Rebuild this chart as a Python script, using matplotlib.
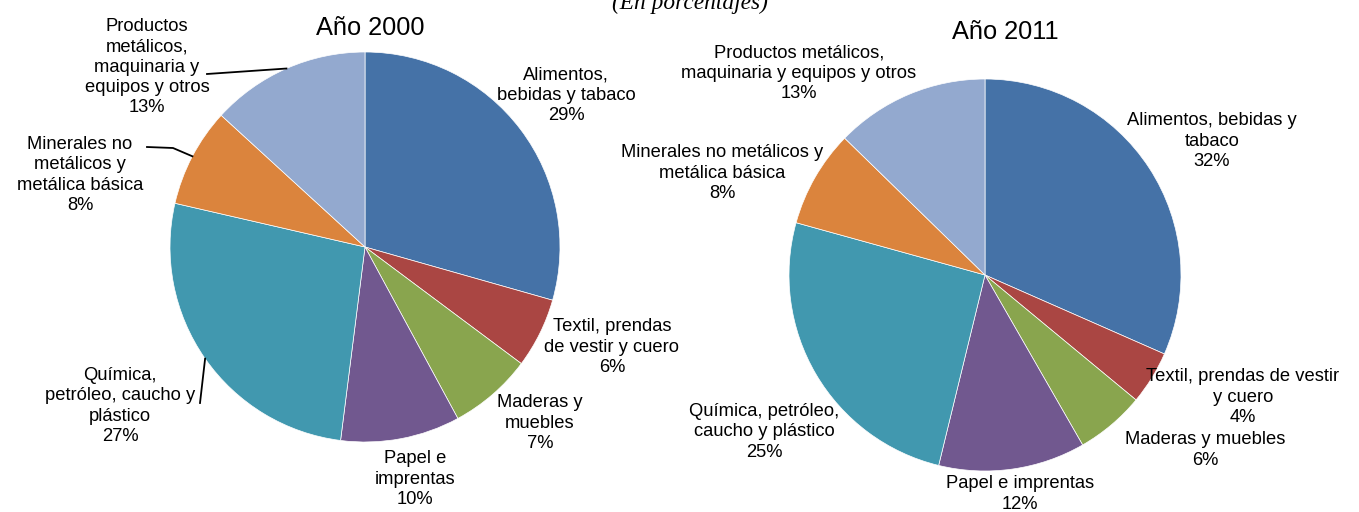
import numpy as np
import matplotlib
matplotlib.use("Agg")
import matplotlib.pyplot as plt

plt.rcParams['font.family'] = ['Liberation Sans', 'DejaVu Sans']

# datos (porcentajes)
sectores_2000 = ["Alimentos,\nbebidas y tabaco", "Textil, prendas\nde vestir y cuero",
                 "Maderas y\nmuebles", "Papel e\nimprentas",
                 "Química,\npetróleo, caucho y\nplástico",
                 "Minerales no\nmetálicos y\nmetálica básica",
                 "Productos\nmetálicos,\nmaquinaria y\nequipos y otros"]
valores_2000 = [29.4, 5.8, 6.9, 9.9, 26.6, 8.2, 13.2]
etiq_2000 = ["29%", "6%", "7%", "10%", "27%", "8%", "13%"]

sectores_2011 = ["Alimentos, bebidas y\ntabaco", "Textil, prendas de vestir\ny cuero",
                 "Maderas y muebles", "Papel e imprentas",
                 "Química, petróleo,\ncaucho y plástico",
                 "Minerales no metálicos y\nmetálica básica",
                 "Productos metálicos,\nmaquinaria y equipos y otros"]
valores_2011 = [31.6, 4.4, 5.7, 12.1, 25.5, 8.0, 12.7]
etiq_2011 = ["32%", "4%", "6%", "12%", "25%", "8%", "13%"]

colores = ["#4572A7", "#AA4643", "#89A54E", "#71588F", "#4198AF", "#DB843D", "#93A9CF"]

W, H = 1359, 512
fig = plt.figure(figsize=(W / 100, H / 100), dpi=100)
ax = fig.add_axes([0, 0, 1, 1])


def py(y):
    # coordenada de pixel (desde arriba) a coordenada de datos
    return H - y


# posiciones de las etiquetas (x, y en pixeles desde arriba)
pos_2000 = [(566, 95), (612, 347), (540, 423), (415, 479), (120, 406), (80, 175), (147, 67)]
pos_2011 = [(1212, 141), (1243, 397), (1205, 450), (1020, 494), (764, 432), (722, 173), (799, 73)]


def torta(valores, sectores, etiquetas, centro, radio, posiciones):
    wedges, _ = ax.pie(valores, colors=colores, startangle=90, counterclock=False,
                       center=(centro[0], py(centro[1])), radius=radio, frame=True,
                       wedgeprops=dict(edgecolor="white", linewidth=0.5))
    for s, e, (x, y) in zip(sectores, etiquetas, posiciones):
        ax.text(x, py(y), s + "\n" + e, ha="center", va="center", fontsize=13.2,
                linespacing=1.25, color="black")
    return wedges


w0 = torta(valores_2000, sectores_2000, etiq_2000, (365, 247), 195, pos_2000)
w1 = torta(valores_2011, sectores_2011, etiq_2011, (985, 275), 196, pos_2011)


def borde(w):
    ang = np.deg2rad((w.theta1 + w.theta2) / 2)
    return w.center[0] + w.r * np.cos(ang), w.center[1] + w.r * np.sin(ang)


# líneas guía (solo año 2000)
guias = {6: [(207, 74)], 5: [(147, 147), (173, 148)], 4: [(200, 403)]}
for i, pts in guias.items():
    ex, ey = borde(w0[i])
    xs = [p[0] for p in pts] + [ex]
    ys = [py(p[1]) for p in pts] + [ey]
    ax.plot(xs, ys, color="black", lw=1.3)

ax.text(370, py(28), "Año 2000", ha="center", va="center", fontsize=18.3)
ax.text(1005, py(32), "Año 2011", ha="center", va="center", fontsize=18.3)
ax.text(690, py(9), "(En porcentajes)", ha="center", va="baseline", fontsize=16.8,
        style="italic", family="Liberation Serif")

ax.set_xlim(0, W)
ax.set_ylim(0, H)
ax.set_aspect("auto")
ax.axis("off")

fig.savefig("out.png", dpi=100)
